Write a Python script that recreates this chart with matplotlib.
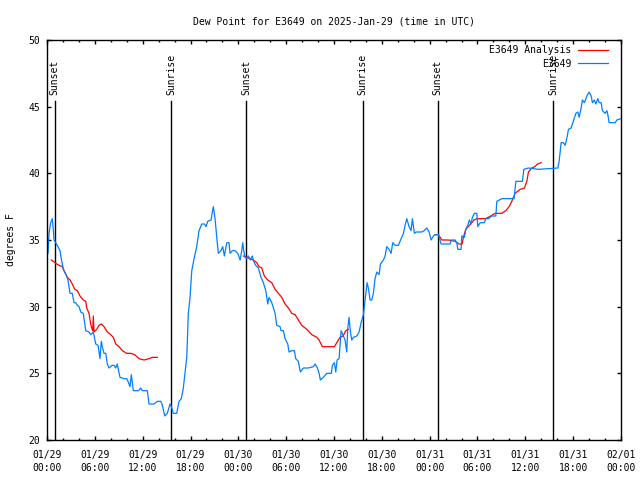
import numpy as np
import matplotlib
matplotlib.use("Agg")
import matplotlib.pyplot as plt
from matplotlib.ticker import MultipleLocator

# observed dew point (hours since 2025-01-29 00:00 UTC, degrees F)
obs_hours = [0.13, 0.25, 0.46, 0.66, 0.79, 0.88, 1.09, 1.38, 1.63, 1.79, 2.05, 2.22, 2.47, 2.63,
             2.89, 3.17, 3.39, 3.60, 3.80, 4.02, 4.23, 4.55, 4.86, 5.27, 5.48, 5.81, 6.11, 6.40,
             6.65, 6.81, 6.94, 7.15, 7.37, 7.57, 7.78, 7.99, 8.19, 8.41, 8.62, 8.82, 8.91, 9.16,
             9.66, 10.0, 10.16, 10.41, 10.58, 10.7, 10.83, 11.13, 11.5, 11.76, 11.96, 12.58, 12.8,
             13.43, 13.84, 14.27, 14.47, 14.77, 15.09, 15.43, 15.6, 15.85, 16.27, 16.56, 16.85,
             17.1, 17.53, 17.73, 17.94, 18.16, 18.48, 18.78, 19.07, 19.41, 19.76, 19.95, 20.16,
             20.58, 20.74, 20.87, 21.08, 21.29, 21.49, 21.83, 22.04, 22.25, 22.55, 22.83, 22.96,
             23.25, 23.59, 23.93, 24.22, 24.43, 24.55, 24.68, 24.84, 25.06, 25.26, 25.47, 25.76,
             25.93, 26.18, 26.51, 26.85, 27.14, 27.44, 27.69, 27.85, 28.19, 28.61, 28.82, 29.23,
             29.36, 29.65, 29.86, 30.2, 30.36, 30.7, 31.03, 31.2, 31.53, 31.78, 32.16, 32.79,
             33.41, 33.63, 33.92, 34.13, 34.29, 34.67, 35.09, 35.67, 35.8, 36.05, 36.22, 36.39,
             36.64, 36.89, 37.18, 37.39, 37.6, 37.73, 37.89, 38.06, 38.23, 38.43, 38.86, 39.15,
             39.4, 39.69, 39.9, 40.15, 40.31, 40.53, 40.74, 40.94, 41.15, 41.37, 41.66, 41.82,
             42.2, 42.41, 42.62, 42.91, 43.16, 43.37, 43.66, 44.08, 44.42, 44.71, 44.92, 45.13,
             45.42, 45.67, 45.83, 46.08, 46.3, 47.01, 47.3, 47.64, 47.93, 48.18, 48.47, 48.68,
             49.1, 49.44, 50.56, 50.69, 51.19, 51.4, 51.53, 51.94, 52.03, 52.36, 52.53, 52.78,
             52.98, 53.2, 53.36, 53.61, 53.91, 54.04, 54.33, 54.87, 55.04, 55.37, 55.8, 56.3,
             56.42, 57.05, 58.59, 58.81, 59.64, 59.81, 60.39, 61.64, 64.08, 64.24, 64.49, 64.78,
             64.99, 65.2, 65.41, 65.75, 65.91, 66.34, 66.59, 66.75, 67.0, 67.16, 67.41, 67.72,
             68.0, 68.26, 68.42, 68.67, 68.84, 69.1, 69.26, 69.51, 69.67, 70.01, 70.23, 70.35,
             70.51, 71.27, 71.48, 72.0]
obs_dewpt = [34.0, 35.5, 36.3, 36.6, 35.8, 35.0, 34.8, 34.5, 34.2, 33.6, 32.8, 32.6, 32.3, 32.0,
             31.0, 31.0, 30.3, 30.3, 30.1, 30.0, 29.6, 29.5, 28.2, 28.1, 27.9, 28.1, 27.2, 27.1,
             26.1, 27.4, 27.0, 26.5, 26.5, 25.7, 25.4, 25.5, 25.6, 25.6, 25.4, 25.7, 25.4, 24.7,
             24.6, 24.6, 24.4, 24.0, 24.9, 24.3, 23.7, 23.7, 23.7, 23.9, 23.7, 23.7, 22.7,
             22.7, 22.9, 22.9, 22.6, 21.8, 22.0, 22.7, 22.5, 22.0, 22.0, 22.9, 23.1,
             23.9, 26.2, 29.5, 30.7, 32.7, 33.7, 34.5, 35.7, 36.2, 36.2, 36.0, 36.4,
             36.5, 37.1, 37.5, 36.6, 35.2, 34.0, 34.2, 34.5, 33.8, 34.8, 34.8, 34.0,
             34.2, 34.2, 34.0, 33.5, 34.2, 34.8, 34.2, 33.7, 33.6, 33.8, 33.5, 33.8,
             33.4, 33.1, 32.9, 32.2, 31.8, 31.2, 30.2, 30.7, 30.3, 29.5, 28.6, 28.5,
             28.2, 28.2, 27.6, 27.2, 26.6, 26.7, 26.7, 26.1, 25.9, 25.1, 25.4, 25.4,
             25.5, 25.7, 25.4, 25.0, 24.5, 24.7, 25.0, 25.0, 25.6, 25.8, 25.1, 26.0,
             26.1, 28.2, 27.8, 27.5, 26.6, 28.4, 29.2, 28.1, 27.5, 27.7, 27.8, 28.1,
             28.8, 29.4, 30.5, 31.8, 31.4, 30.5, 30.5, 31.0, 32.1, 32.6, 32.4, 33.2,
             33.5, 33.8, 34.5, 34.3, 34.0, 34.8, 34.6, 34.6, 35.1, 35.5, 36.1, 36.6,
             36.0, 35.7, 36.6, 35.5, 35.6, 35.6, 35.7, 35.9, 35.6, 35.0, 35.3, 35.4,
             35.4, 34.7, 34.7, 35.0, 35.0, 34.8, 34.3, 34.3, 35.3, 35.2, 35.8, 36.1,
             36.5, 36.2, 36.7, 37.0, 37.0, 36.0, 36.3, 36.3, 36.6, 36.6, 36.8, 36.8,
             37.9, 38.1, 38.1, 39.4, 39.4, 40.3, 40.4, 40.3, 40.4, 40.9, 42.3, 42.3,
             42.1, 42.6, 43.3, 43.4, 43.7, 44.5, 44.6, 44.2, 44.9, 45.5, 45.3, 45.8,
             46.1, 45.8, 45.3, 45.5, 45.2, 45.6, 45.3, 45.3, 44.7, 44.5, 44.7, 44.4,
             43.8, 43.8, 44.0, 44.1]

# analysis dew point, three separate runs (nan = gap)
ana_hours = [0.54, 0.79, 1.22, 1.51, 1.92, 2.22, 2.55, 2.89, 3.17, 3.48, 3.8, 4.14, 4.55, 4.86,
             4.98, 5.27, 5.48, 5.61, 5.73, 5.81, 5.9, 6.24, 6.52, 6.81, 7.15, 7.57, 7.99, 8.32,
             8.62, 9.03, 9.45, 10.0, 10.5, 11.0, 11.54, 12.17, 12.8, 13.21, 13.84,
             19.0,
             24.63, 25.06, 25.47, 25.88, 26.31, 26.6, 26.94, 27.26, 27.69, 28.19, 28.61, 29.02,
             29.45, 29.86, 30.28, 30.7, 31.12, 31.53, 31.96, 32.58, 33.21, 33.84, 34.13, 34.54,
             35.26, 36.05, 36.35, 36.76, 37.14, 37.48, 37.8,
             43.0,
             48.68, 49.1, 49.52, 50.36, 51.19, 51.69, 52.07, 52.23, 52.53, 52.82, 53.14, 53.55,
             53.96, 55.01, 55.65, 56.21, 57.05, 57.55, 57.97, 58.3, 58.72, 59.35, 59.89, 60.19,
             60.39, 60.81, 61.19, 61.54, 61.98]
ana_dewpt = [33.5, 33.4, 33.2, 33.1, 33.0, 32.6, 32.2, 32.0, 31.7, 31.3, 31.2, 30.8, 30.5, 30.4,
             29.9, 29.5, 28.7, 28.4, 28.2, 29.3, 28.1, 28.3, 28.6, 28.7, 28.5, 28.1, 27.9, 27.7,
             27.2, 27.0, 26.7, 26.5, 26.5, 26.4, 26.1, 26.0, 26.1, 26.2, 26.2,
             np.nan,
             33.8, 33.7, 33.6, 33.5, 33.3, 33.0, 32.9, 32.3, 32.0, 31.8, 31.3, 31.0,
             30.7, 30.2, 29.9, 29.5, 29.4, 29.0, 28.6, 28.3, 27.9, 27.7, 27.5, 27.0,
             27.0, 27.0, 27.3, 27.7, 27.8, 28.2, 28.3,
             np.nan,
             35.4, 35.4, 35.0, 35.0, 34.9, 34.7, 34.7, 35.2, 35.8, 36.0, 36.2, 36.5,
             36.6, 36.6, 36.8, 37.0, 37.0, 37.2, 37.5, 37.9, 38.5, 38.8, 38.9, 39.4,
             40.1, 40.4, 40.5, 40.7, 40.8]

event_hours = [0.95, 15.6, 24.95, 39.6, 49.0, 63.5]
event_names = ["Sunset", "Sunrise", "Sunset", "Sunrise", "Sunset", "Sunrise"]

tick_hours = list(range(0, 73, 6))
tick_labels = ["01/29\n00:00", "01/29\n06:00", "01/29\n12:00", "01/29\n18:00",
               "01/30\n00:00", "01/30\n06:00", "01/30\n12:00", "01/30\n18:00",
               "01/31\n00:00", "01/31\n06:00", "01/31\n12:00", "01/31\n18:00",
               "02/01\n00:00"]

plt.rcParams["font.family"] = ["DejaVu Sans Mono"]
plt.rcParams["font.size"] = 7

fig = plt.figure(figsize=(6.4, 4.8), dpi=100)
ax = fig.add_axes([47 / 640, 40 / 480, 574 / 640, 400 / 480])

for h, name in zip(event_hours, event_names):
    ax.plot([h, h], [20, 45.45], color="black", linewidth=1)
    ax.text(h, 45.9, name, rotation=90, ha="center", va="bottom", fontsize=7)

ax.plot(ana_hours, ana_dewpt, color="#ff0000", linewidth=0.9, label="E3649 Analysis")
ax.plot(obs_hours, obs_dewpt, color="#0080ff", linewidth=0.9, label="E3649")

ax.set_xlim(0, 72)
ax.set_ylim(20, 50)
ax.set_xticks(tick_hours)
ax.set_xticklabels(tick_labels, linespacing=1.45)
ax.xaxis.set_minor_locator(MultipleLocator(2))
ax.set_yticks(range(20, 51, 5))

ax.tick_params(which="both", direction="in", top=True, right=True, width=1)
ax.tick_params(which="major", length=3)
ax.tick_params(which="minor", length=1.5)
ax.tick_params(axis="x", pad=7)
ax.tick_params(axis="y", pad=5)
for s in ax.spines.values():
    s.set_linewidth(1)

ax.set_title("Dew Point for E3649 on 2025-Jan-29 (time in UTC)", fontsize=7, pad=11)
ax.set_ylabel("degrees F")
ax.yaxis.set_label_coords(-31 / 574, 0.5)

ax.legend(loc="upper right", bbox_to_anchor=(1 - 8 / 574, 1), frameon=False,
          markerfirst=False, fontsize=7, handlelength=3.1, handletextpad=0.6,
          labelspacing=0.35, borderaxespad=0, borderpad=0.55)

fig.savefig("out.png", dpi=100)
plt.close(fig)
